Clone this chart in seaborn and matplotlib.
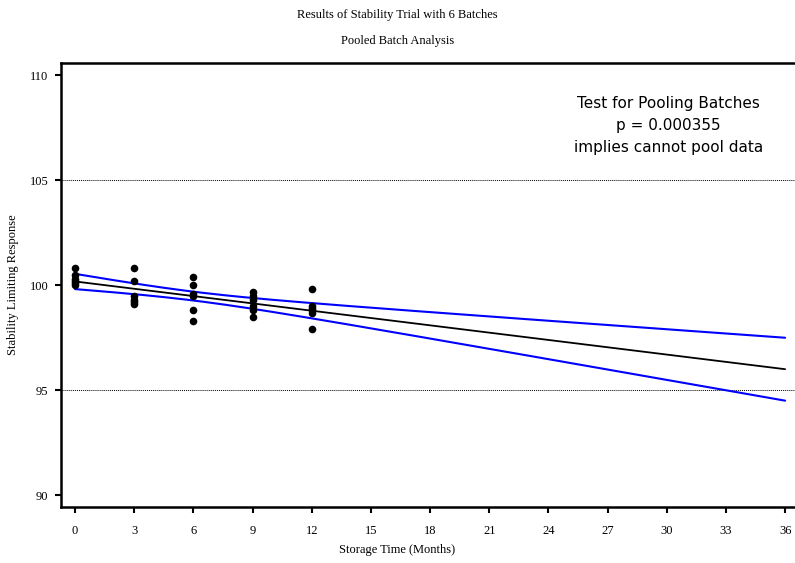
import numpy as np
import pandas as pd
import matplotlib
matplotlib.use("Agg")
import matplotlib.pyplot as plt
import seaborn as sns

# --- Data ---
months = [0, 3, 6, 9, 12]
batch_values = {
    0: [100.8, 100.5, 100.3, 100.2, 100.1, 100.0],
    3: [100.8, 100.2, 99.5, 99.3, 99.2, 99.1],
    6: [100.4, 100.0, 99.6, 99.5, 98.8, 98.3],
    9: [99.7, 99.5, 99.3, 99.0, 98.8, 98.5],
    12: [99.8, 99.0, 98.9, 98.8, 98.7, 97.9],
}
x_ticks = list(range(0, 37, 3))
y_ticks = [90, 95, 100, 105, 110]
spec_limits = [95, 105]
note_lines = ["Test for Pooling Batches", "p = 0.000355", "implies cannot pool data"]
t_crit = 2.048  # t(0.975, df=28)

df = pd.DataFrame(
    [(m, v) for m in months for v in batch_values[m]],
    columns=["month", "response"],
)

# --- Pooled regression with confidence band ---
x = df["month"].to_numpy(float)
y = df["response"].to_numpy(float)
slope, intercept = np.polyfit(x, y, 1)
resid = y - (intercept + slope * x)
n = len(x)
s = np.sqrt(np.sum(resid ** 2) / (n - 2))
sxx = np.sum((x - x.mean()) ** 2)
grid = np.linspace(0, 36, 200)
fit = intercept + slope * grid
half = t_crit * s * np.sqrt(1 / n + (grid - x.mean()) ** 2 / sxx)
band = pd.DataFrame({"month": grid, "fit": fit, "lo": fit - half, "hi": fit + half})

# --- Plot ---
sns.set_style("ticks")
plt.rcParams["font.family"] = ["Liberation Serif", "DejaVu Serif"]
plt.rcParams["text.color"] = "black"
plt.rcParams["axes.labelcolor"] = "black"

fig = plt.figure(figsize=(7.95, 5.63), dpi=100)
ax = fig.add_axes([0.0767, 0.1, 0.9233, 0.7886])

for lim in spec_limits:
    ax.axhline(lim, color="black", linestyle=(0, (1, 1)), linewidth=0.7, zorder=1)

sns.lineplot(data=band, x="month", y="hi", color="#0000ff", linewidth=1.5, ax=ax)
sns.lineplot(data=band, x="month", y="lo", color="#0000ff", linewidth=1.5, ax=ax)
sns.lineplot(data=band, x="month", y="fit", color="black", linewidth=1.3, ax=ax)
sns.scatterplot(data=df, x="month", y="response", color="black", s=30,
                edgecolor="black", linewidth=0, zorder=5, ax=ax)

ax.set_xlim(-0.71, 36.5)
ax.set_ylim(89.45, 110.6)
ax.set_xticks(x_ticks)
ax.set_yticks(y_ticks)
ax.tick_params(axis="both", direction="out", length=4, width=1.5, labelsize=9,
               pad=5, color="black", labelcolor="black")
ax.tick_params(axis="x", pad=9)
for side in ["left", "bottom", "top"]:
    ax.spines[side].set_linewidth(1.8)
    ax.spines[side].set_color("black")
ax.spines["right"].set_visible(False)

ax.set_xlabel("Storage Time (Months)", fontsize=9)
ax.set_ylabel("Stability Limiting Response", fontsize=9)
ax.xaxis.set_label_coords(0.458, -0.083)
ax.yaxis.set_label_coords(-0.057, 0.5)

fig.text(0.5, 0.973, "Results of Stability Trial with 6 Batches",
         ha="center", va="center", fontsize=9)
fig.text(0.5, 0.928, "Pooled Batch Analysis", ha="center", va="center", fontsize=9)

for i, line in enumerate(note_lines):
    ax.text(30.1, 108.67 - 1.05 * i, line, ha="center", va="center",
            fontsize=11, family=["DejaVu Sans"])

fig.savefig("out.png", dpi=100)
